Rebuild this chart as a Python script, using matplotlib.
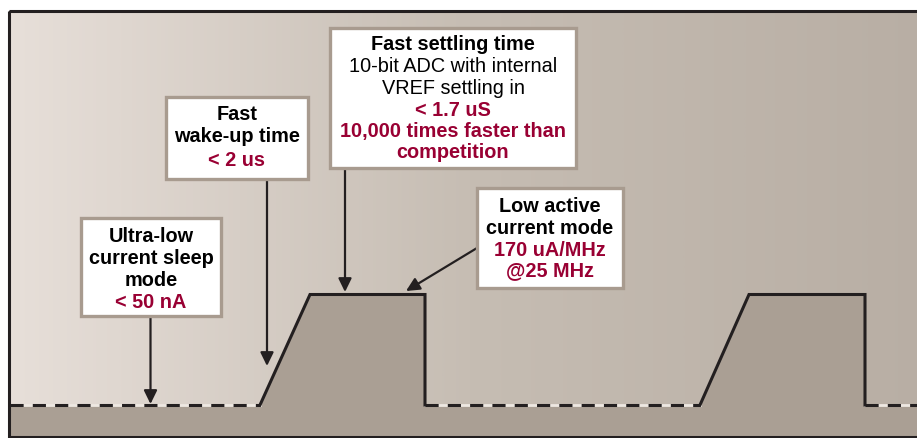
import numpy as np
import matplotlib
matplotlib.use("Agg")
import matplotlib.pyplot as plt
from matplotlib.patches import Rectangle, Polygon
from matplotlib.colors import LinearSegmentedColormap

plt.rcParams['font.family'] = ['Liberation Sans', 'DejaVu Sans']

# ---- data (pixel-like coordinates of the power profile) ----
base_level = 405.0
active_level = 294.5
pulse_start = [260, 700]
pulse_top_start = [310, 749]
pulse_end = [425, 865]
x_min, x_max = 10, 930
floor = 437.0

# annotation boxes: (x0, y0, x1, y1)
box_rects = [(81, 218, 221, 316), (166, 97, 308, 179), (330, 28, 576, 168), (477, 188, 623, 288)]
box_lines = [
    [("Ultra-low", "k", "bold"), ("current sleep", "k", "bold"), ("mode", "k", "bold"), ("< 50 nA", "r", "bold")],
    [("Fast", "k", "bold"), ("wake-up time", "k", "bold"), ("< 2 us", "r", "bold")],
    [("Fast settling time", "k", "bold"), ("10-bit ADC with internal", "k", "normal"),
     ("VREF settling in", "k", "normal"), ("< 1.7 uS", "r", "bold"),
     ("10,000 times faster than", "r", "bold"), ("competition", "r", "bold")],
    [("Low active", "k", "bold"), ("current mode", "k", "bold"), ("170 uA/MHz", "r", "bold"), ("@25 MHz", "r", "bold")],
]
box_line_y = [
    [237, 259, 281, 302],
    [115, 137, 160],
    [45, 67, 88, 110, 131, 152],
    [207, 228, 250, 271],
]
arrows = [((150.5, 316), (150.5, 404)), ((267, 179), (267, 366)),
          ((345, 168), (345, 292)), ((477, 248), (406, 291))]

W, H = 917, 438
fig = plt.figure(figsize=(W / 100, H / 100), dpi=100)
ax = fig.add_axes([0, 0, 1, 1])
ax.set_xlim(0, W)
ax.set_ylim(H, 0)
ax.axis('off')

# background gradient
cmap = LinearSegmentedColormap.from_list(
    'bg', [(0.0, '#e7dfd9'), (0.5, '#c6bdb3'), (1.0, '#b8aea4')])
grad = np.linspace(0, 1, 512).reshape(1, -1)
ax.imshow(grad, cmap=cmap, aspect='auto', extent=[x_min, x_max, floor, 11], zorder=0)

fill_c = '#aa9f94'
line_c = '#231f20'
# base fill
ax.add_patch(Rectangle((x_min, base_level), x_max - x_min, floor - base_level,
                       facecolor=fill_c, edgecolor='none', zorder=1))
# pulses
for s, t, e in zip(pulse_start, pulse_top_start, pulse_end):
    ax.add_patch(Polygon([(s, base_level), (t, active_level), (e, active_level), (e, base_level)],
                         closed=True, facecolor=fill_c, edgecolor='none', zorder=1))
    ax.plot([s, t, e, e], [base_level, active_level, active_level, base_level],
            color=line_c, lw=2.2, solid_joinstyle='miter', zorder=3)

# dashed baseline segments
seg_starts = [x_min] + pulse_end
seg_ends = pulse_start + [x_max]
for a, b in zip(seg_starts, seg_ends):
    ax.plot([a, b], [base_level, base_level], color='#eee8e2', lw=2.0, zorder=2)
    ax.plot([a, b], [base_level, base_level], color=line_c, lw=2.2,
            dashes=(4.3, 3.0), zorder=3)

# frame
ax.add_patch(Rectangle((9, 11), 940, floor - 11, facecolor='none',
                       edgecolor=line_c, lw=2.2, zorder=6))

# arrows
for (x0, y0), (x1, y1) in arrows:
    ax.annotate('', xy=(x1, y1), xytext=(x0, y0),
                arrowprops=dict(arrowstyle='-|>,head_length=0.45,head_width=0.22',
                                color=line_c, lw=1.6, shrinkA=0, shrinkB=0,
                                mutation_scale=18), zorder=4)

# boxes with text
red = '#990033'
for (x0, y0, x1, y1), lines, ys in zip(box_rects, box_lines, box_line_y):
    ax.add_patch(Rectangle((x0, y0), x1 - x0, y1 - y0, facecolor='white',
                           edgecolor='#a89b8f', lw=2.4, zorder=5))
    cx = (x0 + x1) / 2
    for (txt, c, w), y in zip(lines, ys):
        ax.text(cx, y, txt, ha='center', va='center', fontsize=14.3,
                fontweight=w, color=(red if c == 'r' else 'black'), zorder=7)

fig.savefig('out.png', dpi=100, facecolor='white')
